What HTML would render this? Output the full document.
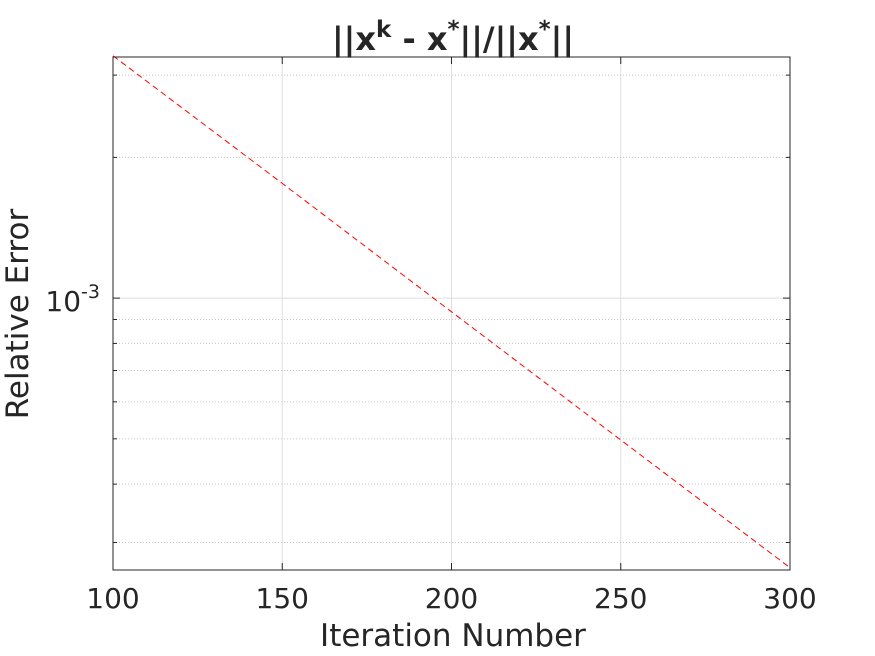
<!DOCTYPE html>
<html><head><meta charset="utf-8"><style>
html,body{margin:0;padding:0;background:#fff;width:875px;height:656px;overflow:hidden}
svg text{font-family:"DejaVu Sans","Liberation Sans",sans-serif;fill:#262626}
</style></head><body>
<svg id="chart" width="875" height="656" viewBox="0 0 875 656" xmlns="http://www.w3.org/2000/svg">
<rect x="0" y="0" width="875" height="656" fill="#fff"/>
<g id="grid"></g>
<g id="series"></g>
<rect x="113" y="57" width="677" height="513" fill="none" stroke="#262626" stroke-width="1"/>
<g id="ticks"></g>
<text x="453" y="50" text-anchor="middle" font-size="32" font-weight="bold">||x<tspan dy="-13" font-size="23">k</tspan><tspan dy="13"> - x</tspan><tspan dy="-13" font-size="23">*</tspan><tspan dy="13">||/||x</tspan><tspan dy="-13" font-size="23">*</tspan><tspan dy="13">||</tspan></text>
<text x="453" y="646" text-anchor="middle" font-size="31">Iteration Number</text>
<text transform="translate(28,314) rotate(-90)" text-anchor="middle" font-size="31">Relative Error</text>
</svg>
<script>
const iterations = [100, 150, 200, 250, 300];
const errors = [3.3e-3, 1.76e-3, 9.35e-4, 4.97e-4, 2.65e-4];
const xTicks = [100, 150, 200, 250, 300];
const yMinorTicks = [3e-4, 4e-4, 5e-4, 6e-4, 7e-4, 8e-4, 9e-4, 2e-3, 3e-3];
const yMajorTicks = [1e-3];

const L=113,R=790,T=57,B=570;
const xMin=100,xMax=300;
const yMinLog=Math.log10(2.62e-4),yMaxLog=Math.log10(3.28e-3);
const sx=v=>L+(v-xMin)/(xMax-xMin)*(R-L);
const sy=v=>B-(Math.log10(v)-yMinLog)/(yMaxLog-yMinLog)*(B-T);
const NS="http://www.w3.org/2000/svg";
function mk(tag,attrs,parent){const e=document.createElementNS(NS,tag);for(const k in attrs)e.setAttribute(k,attrs[k]);parent.appendChild(e);return e;}
const grid=document.getElementById('grid'),ticks=document.getElementById('ticks'),series=document.getElementById('series');

xTicks.forEach(v=>{
  const x=sx(v);
  if(v!==xMin&&v!==xMax){const g=mk('line',{x1:x,x2:x,y1:T,y2:B,stroke:'#dfdfdf','stroke-width':1},grid);
  
  }
  const t1=mk('line',{x1:x,x2:x,y1:B,y2:B-7,stroke:'#262626'},ticks);
  
  
  const t2=mk('line',{x1:x,x2:x,y1:T,y2:T+7,stroke:'#262626'},ticks);
  
  
  const lb=mk('text',{x:x,y:608,'text-anchor':'middle','font-size':28},ticks);
  lb.textContent=v;
  
  
});
yMinorTicks.forEach(v=>{
  const y=sy(v);
  const g=mk('line',{x1:L,x2:R,y1:y,y2:y,stroke:'#c8c8c8','stroke-width':1,'stroke-dasharray':'1,2'},grid);
  
  
  const t=mk('line',{x1:L,x2:L+4,y1:y,y2:y,stroke:'#262626'},ticks);
  
  
  const t2=mk('line',{x1:R,x2:R-4,y1:y,y2:y,stroke:'#262626'},ticks);
  
  
});
yMajorTicks.forEach(v=>{
  const y=sy(v);
  const g=mk('line',{x1:L,x2:R,y1:y,y2:y,stroke:'#dfdfdf','stroke-width':1},grid);
  
  
  const t=mk('line',{x1:L,x2:L+7,y1:y,y2:y,stroke:'#262626'},ticks);
  
  
  const t2=mk('line',{x1:R,x2:R-7,y1:y,y2:y,stroke:'#262626'},ticks);
  
  
  const lb=mk('text',{x:100,y:y+13,'text-anchor':'end','font-size':28},ticks);
  const e=Math.round(Math.log10(v));
  lb.innerHTML='10<tspan dy="-13" font-size="19">'+e+'</tspan>';
  
  
});
const d=iterations.map((k,i)=>(i?'L':'M')+sx(k).toFixed(1)+','+sy(errors[i]).toFixed(1)).join(' ');
const p=mk('path',{d:d,fill:'none',stroke:'#ff0000','stroke-width':1,'stroke-dasharray':'6,4'},series);


</script>
</body></html>
